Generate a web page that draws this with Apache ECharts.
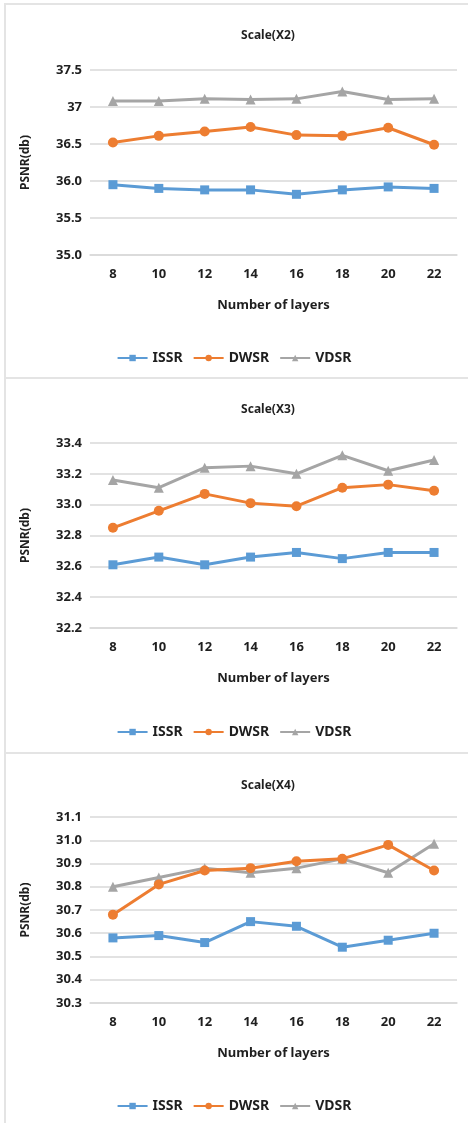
<!DOCTYPE html>
<html>
<head>
<meta charset="utf-8">
<script src="https://cdn.jsdelivr.net/npm/echarts@6/dist/echarts.min.js"></script>
<style>
html,body{margin:0;padding:0;background:#fff;}
#c{width:468px;height:1123px;}
</style>
</head>
<body>
<div id="c"></div>
<script>
var categories = ['8','10','12','14','16','18','20','22'];
var seriesNames = ['ISSR','DWSR','VDSR'];
var titles = ['Scale(X2)','Scale(X3)','Scale(X4)'];

// Scale X2
var issrX2 = [35.95,35.90,35.88,35.88,35.82,35.88,35.92,35.90];
var dwsrX2 = [36.52,36.61,36.67,36.73,36.62,36.61,36.72,36.49];
var vdsrX2 = [37.08,37.08,37.11,37.10,37.11,37.21,37.10,37.11];
// Scale X3
var issrX3 = [32.61,32.66,32.61,32.66,32.69,32.65,32.69,32.69];
var dwsrX3 = [32.85,32.96,33.07,33.01,32.99,33.11,33.13,33.09];
var vdsrX3 = [33.16,33.11,33.24,33.25,33.20,33.32,33.22,33.29];
// Scale X4
var issrX4 = [30.58,30.59,30.56,30.65,30.63,30.54,30.57,30.60];
var dwsrX4 = [30.68,30.81,30.87,30.88,30.91,30.92,30.98,30.87];
var vdsrX4 = [30.80,30.84,30.88,30.86,30.88,30.92,30.86,30.985];

// tick labels (bottom to top)
var yTicksX2 = ['35.0','35.5','36.0','36.5','37','37.5'];
var yTicksX3 = ['32.2','32.4','32.6','32.8','33.0','33.2','33.4'];
var yTicksX4 = ['30.3','30.4','30.5','30.6','30.7','30.8','30.9','31.0','31.1'];

var panels = [
  {data:[issrX2,dwsrX2,vdsrX2], ticks:yTicksX2, min:35.0, max:37.5, interval:0.5, top:70, height:185, titleTop:25, legendTop:346},
  {data:[issrX3,dwsrX3,vdsrX3], ticks:yTicksX3, min:32.2, max:33.4, interval:0.2, top:443, height:185, titleTop:399, legendTop:720},
  {data:[issrX4,dwsrX4,vdsrX4], ticks:yTicksX4, min:30.3, max:31.1, interval:0.1, top:817, height:186, titleTop:775, legendTop:1094}
];

var colors = ['#5B9BD5','#ED7D31','#A5A5A5'];
var symbols = ['rect','circle','triangle'];
var font = '"Noto Sans", "Open Sans", sans-serif';
var txt = '#1f1f1f';

var option = {
  backgroundColor:'#fff',
  animation:false,
  title:[], grid:[], xAxis:[], yAxis:[], series:[], legend:[],
  graphic:[
    {type:'rect', shape:{x:4, y:3, width:2, height:1120}, style:{fill:'#e4e4e4'}},
    {type:'rect', shape:{x:4, y:3, width:464, height:2}, style:{fill:'#e4e4e4'}},
    {type:'rect', shape:{x:4, y:377, width:464, height:2}, style:{fill:'#e4e4e4'}},
    {type:'rect', shape:{x:4, y:752, width:464, height:2}, style:{fill:'#e4e4e4'}}
  ]
};

panels.forEach(function(p, k){
  option.title.push({
    text:titles[k], left:263, top:p.titleTop, textAlign:'center',
    textStyle:{fontFamily:font, fontSize:12, fontWeight:'bold', color:txt}
  });
  option.grid.push({left:90, width:367, top:p.top, height:p.height});
  option.xAxis.push({
    type:'category', gridIndex:k, data:categories, boundaryGap:true,
    name:'Number of layers', nameLocation:'middle', nameGap:44,
    nameTextStyle:{fontFamily:font, fontSize:13, fontWeight:'bold', color:txt},
    axisLine:{show:true, lineStyle:{color:'#d9d9d9', width:1.5}},
    axisTick:{show:false},
    axisLabel:{fontFamily:font, fontSize:13, fontWeight:'bold', color:txt, margin:13}
  });
  (function(ticks, mn, iv){
    option.yAxis.push({
      type:'value', gridIndex:k, min:p.min, max:p.max, interval:p.interval,
      name:'PSNR(db)', nameLocation:'middle', nameGap:58,
      nameTextStyle:{fontFamily:font, fontSize:12, fontWeight:'bold', color:txt},
      axisLine:{show:false}, axisTick:{show:false},
      splitLine:{show:true, lineStyle:{color:'#d9d9d9', width:1.5}},
      axisLabel:{fontFamily:font, fontSize:13, fontWeight:'bold', color:txt, margin:8,
        formatter:function(v){ var i = Math.round((v - mn)/iv); return ticks[i] !== undefined ? ticks[i] : v; }}
    });
  })(p.ticks, p.min, p.interval);
  var names = [];
  for (var s=0; s<3; s++){
    var nm = seriesNames[s];
    names.push(nm);
    option.series.push({
      type:'line', name:nm, xAxisIndex:k, yAxisIndex:k, data:p.data[s],
      symbol:symbols[s], symbolSize: s===0 ? 9 : 10, showAllSymbol:true,
      lineStyle:{color:colors[s], width:3},
      itemStyle:{color:colors[s]}, z: 3-s
    });
  }
  option.legend.push({
    data:names, left:'center', top:p.legendTop, itemWidth:30, itemHeight:8, itemGap:10,
    textStyle:{fontFamily:font, fontSize:14, fontWeight:'bold', color:txt}
  });
});

var chart = echarts.init(document.getElementById('c'), null, {renderer:'canvas'});
chart.setOption(option);
</script>
</body>
</html>
